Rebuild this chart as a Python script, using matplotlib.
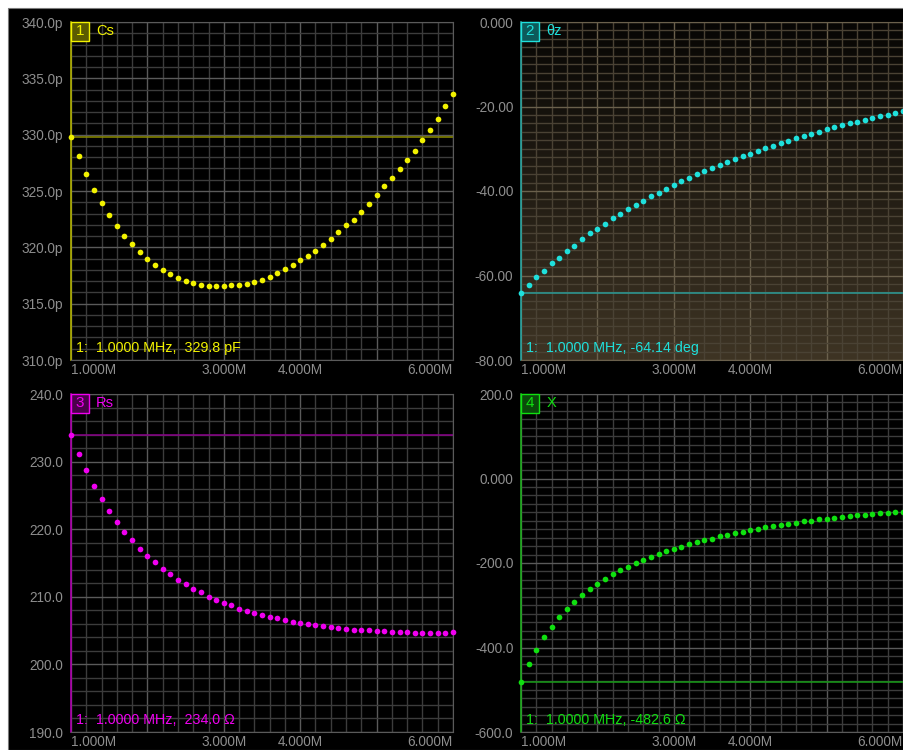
"""
Impedance analyzer screen: Cs, theta-z, Rs and X over a 1-6 MHz sweep
"""

import numpy as np
import matplotlib.pyplot as plt
from matplotlib.patches import Rectangle
from matplotlib.ticker import MultipleLocator
from matplotlib.colors import LinearSegmentedColormap

plt.rcParams['font.family'] = ['Liberation Sans', 'DejaVu Sans']

# sweep points (MHz)
freq_mhz = [1.0, 1.1, 1.2, 1.3, 1.4, 1.5, 1.6, 1.7, 1.8, 1.9,
            2.0, 2.1, 2.2, 2.3, 2.4, 2.5, 2.6, 2.7, 2.8, 2.9,
            3.0, 3.1, 3.2, 3.3, 3.4, 3.5, 3.6, 3.7, 3.8, 3.9,
            4.0, 4.1, 4.2, 4.3, 4.4, 4.5, 4.6, 4.7, 4.8, 4.9,
            5.0, 5.1, 5.2, 5.3, 5.4, 5.5, 5.6, 5.7, 5.8, 5.9,
            6.0]

# trace 1: Cs (pF)
cs_pf = [329.8, 328.1, 326.55, 325.1, 323.95, 322.83, 321.88, 321.02, 320.31, 319.55,
         318.98, 318.45, 318.01, 317.62, 317.30, 317.0, 316.8, 316.62, 316.53, 316.53,
         316.56, 316.62, 316.62, 316.74, 316.91, 317.09, 317.39, 317.74, 318.10, 318.45,
         318.86, 319.25, 319.66, 320.17, 320.73, 321.32, 321.97, 322.47, 323.15, 323.83,
         324.63, 325.40, 326.17, 326.93, 327.73, 328.59, 329.51, 330.45, 331.43, 332.58,
         333.64]

# trace 2: theta z (deg)
theta_deg = [-64.14, -62.25, -60.44, -58.94, -57.13, -55.79, -54.22, -52.96, -51.38, -50.04,
             -49.02, -47.75, -46.49, -45.39, -44.37, -43.26, -42.32, -41.29, -40.43, -39.48,
             -38.61, -37.67, -36.88, -36.01, -35.30, -34.52, -33.81, -33.02, -32.39, -31.68,
             -31.13, -30.42, -29.87, -29.24, -28.61, -28.05, -27.50, -26.95, -26.48, -25.93,
             -25.37, -24.90, -24.43, -23.96, -23.64, -23.09, -22.70, -22.30, -21.99, -21.59,
             -21.12]

# trace 3: Rs (ohm)
rs_ohm = [234.0, 231.17, 228.71, 226.44, 224.52, 222.74, 221.07, 219.64, 218.35, 217.12,
          216.08, 215.10, 214.11, 213.32, 212.53, 211.84, 211.20, 210.71, 210.02, 209.58,
          209.13, 208.74, 208.24, 207.95, 207.60, 207.31, 206.95, 206.81, 206.51, 206.32,
          206.12, 205.93, 205.78, 205.63, 205.48, 205.33, 205.23, 205.14, 205.04, 205.04,
          204.94, 204.89, 204.84, 204.79, 204.74, 204.69, 204.69, 204.69, 204.69, 204.69,
          204.74]

# trace 4: X (ohm)
x_ohm = [-482.6, -439.9, -405.9, -374.4, -351.5, -327.8, -308.9, -291.5, -276.5, -260.8,
         -249.7, -237.1, -226.8, -216.6, -208.7, -200.8, -192.9, -185.0, -179.5, -172.4,
         -166.9, -161.4, -155.8, -151.1, -146.4, -142.4, -136.9, -133.0, -129.0, -125.8,
         -121.9, -118.7, -115.6, -112.4, -109.3, -106.9, -104.5, -101.4, -99.8, -96.6,
         -95.0, -92.7, -91.1, -88.8, -87.2, -85.6, -84.0, -82.4, -80.8, -80.0,
         -78.5]

x_ticks = [1, 2, 3, 4, 5, 6]
x_tick_labels = ["1.000M", "", "3.000M", "4.000M", "", "6.000M"]

cs_ticks = [310, 315, 320, 325, 330, 335, 340]
cs_tick_labels = ["310.0p", "315.0p", "320.0p", "325.0p", "330.0p", "335.0p", "340.0p"]
theta_ticks = [-80, -60, -40, -20, 0]
theta_tick_labels = ["-80.00", "-60.00", "-40.00", "-20.00", "0.000"]
rs_ticks = [190, 200, 210, 220, 230, 240]
rs_tick_labels = ["190.0", "200.0", "210.0", "220.0", "230.0", "240.0"]
x_ohm_ticks = [-600, -400, -200, 0, 200]
x_ohm_tick_labels = ["-600.0", "-400.0", "-200.0", "0.000", "200.0"]

W, H = 904, 750
LABEL_GRAY = "#8e8e8e"


def draw_panel(rect, y, yticks, ylabels, yminor, num, name, readout,
               color, line_color, box_fill, spine_color,
               minor_grid="#3c3c3c", major_grid="#5a5a5a", gradient=False):
  """
  Draw one trace window of the analyzer screen
  """
  left, top, right, bottom = rect
  ax = fig.add_axes([left / W, 1 - bottom / H, (right - left) / W, (bottom - top) / H])
  ax.set_facecolor("black")

  if gradient:
    cmap = LinearSegmentedColormap.from_list("bg", ["#3e3424", "#070604"])
    ax.imshow(np.linspace(0, 1, 256).reshape(-1, 1)[::-1], cmap=cmap, aspect="auto",
              extent=(0, 1, 0, 1), transform=ax.transAxes, zorder=0)

  ax.set_xlim(1, 6)
  ax.set_ylim(yticks[0], yticks[-1])

  ax.set_xticks(x_ticks)
  ax.set_xticklabels(x_tick_labels)
  ax.xaxis.set_minor_locator(MultipleLocator(0.2))
  ax.set_yticks(yticks)
  ax.set_yticklabels(ylabels)
  ax.yaxis.set_minor_locator(MultipleLocator(yminor))

  ax.grid(True, which="minor", color=minor_grid, lw=1.0, zorder=1)
  ax.grid(True, which="major", color=major_grid, lw=1.0, zorder=1)
  ax.tick_params(which="both", length=0, colors=LABEL_GRAY, labelsize=9.8)
  ax.tick_params(axis="y", pad=5.5)
  ax.tick_params(axis="x", pad=2.5)
  labels = ax.get_xticklabels()
  labels[0].set_ha("left")
  labels[-1].set_ha("right")

  for side in ["top", "right", "bottom"]:
    ax.spines[side].set_color(major_grid)
  ax.spines["left"].set_color(spine_color)
  ax.spines["left"].set_linewidth(1.2)

  # marker reference line and trace
  ax.axhline(y[0], color=line_color, lw=1.1, zorder=2)
  ax.plot(freq_mhz, y, "o", color=color, ms=4.1, mew=0, zorder=3, clip_on=False)

  # trace number box and name
  ax.add_patch(Rectangle((0.0, 0.943), 0.047, 0.058, transform=ax.transAxes,
                         facecolor=box_fill, edgecolor=color, lw=1.0, clip_on=False, zorder=4))
  ax.text(0.0235, 0.972, str(num), transform=ax.transAxes, ha="center", va="center",
          color=color, fontsize=11, zorder=5)
  ax.text(0.066, 0.972, name, transform=ax.transAxes, ha="left", va="center",
          color=color, fontsize=10.5, zorder=5)

  # marker readout
  ax.text(0.012, 0.036, readout, transform=ax.transAxes, ha="left", va="center",
          color=color, fontsize=10.3, zorder=5)
  return ax


fig = plt.figure(figsize=(W / 100, H / 100), dpi=100)
fig.patch.set_facecolor("white")
fig.add_artist(Rectangle((8 / W, 0), 1, 1 - 8 / H, transform=fig.transFigure,
                         facecolor="black", edgecolor="#7a7a7a", lw=0.8, zorder=0))

draw_panel((71, 22, 453, 360), cs_pf, cs_ticks, cs_tick_labels, 1,
           1, "Cs", "1:  1.0000 MHz,  329.8 pF",
           "#f2f200", "#8c8c00", "#5a5a00", "#b4b400")

draw_panel((521, 22, 903, 360), theta_deg, theta_ticks, theta_tick_labels, 2,
           2, "θz", "1:  1.0000 MHz, -64.14 deg",
           "#1fe0dc", "#2a9c98", "#0d5a5a", "#2aa8a4",
           minor_grid="#4a4234", major_grid="#6a604c", gradient=True)

draw_panel((71, 394, 453, 732), rs_ohm, rs_ticks, rs_tick_labels, 2,
           3, "Rs", "1:  1.0000 MHz,  234.0 Ω",
           "#f000f0", "#8a008a", "#4a004a", "#b000b0")

draw_panel((521, 394, 903, 732), x_ohm, x_ohm_ticks, x_ohm_tick_labels, 20,
           4, "X", "1:  1.0000 MHz, -482.6 Ω",
           "#10e010", "#159a15", "#0a4a0a", "#20b020")

plt.savefig("out.png", dpi=100, facecolor=fig.get_facecolor())
